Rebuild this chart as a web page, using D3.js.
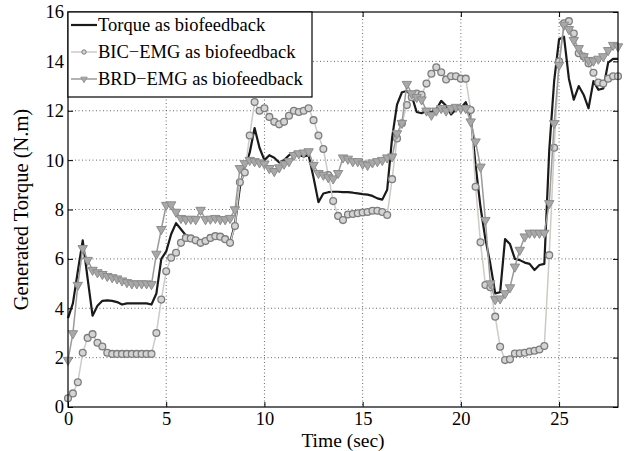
<!DOCTYPE html>
<html><head><meta charset="utf-8">
<script src="https://cdn.jsdelivr.net/npm/d3@7"></script>
<style>body{margin:0;background:#fff}svg{display:block}</style>
</head><body>
<svg id="c" width="625" height="451"></svg>
<script>
const time = [0,0.25,0.5,0.75,1,1.25,1.5,1.75,2,2.25,2.5,2.75,3,3.25,3.5,3.75,4,4.25,4.5,4.75,5,5.25,5.5,5.75,6,6.25,6.5,6.75,7,7.25,7.5,7.75,8,8.25,8.5,8.75,9,9.25,9.5,9.75,10,10.25,10.5,10.75,11,11.25,11.5,11.75,12,12.25,12.5,12.75,13,13.25,13.5,13.75,14,14.25,14.5,14.75,15,15.25,15.5,15.75,16,16.25,16.5,16.75,17,17.25,17.5,17.75,18,18.25,18.5,18.75,19,19.25,19.5,19.75,20,20.25,20.5,20.75,21,21.25,21.5,21.75,22,22.25,22.5,22.75,23,23.25,23.5,23.75,24,24.25,24.5,24.75,25,25.25,25.5,25.75,26,26.25,26.5,26.75,27,27.25,27.5,27.75,28];

const torque = [3.6,4.2,5.5,6.75,5.2,3.7,4.1,4.3,4.32,4.3,4.25,4.15,4.2,4.2,4.2,4.2,4.2,4.15,4.6,6.0,6.3,7.0,7.45,7.2,6.95,6.85,6.8,6.75,6.75,6.8,6.85,6.85,6.8,6.65,7.4,8.9,9.7,10.3,11.3,10.5,10.0,10.2,10.1,9.9,10.0,10.2,10.3,10.2,10.15,10.2,9.3,8.3,8.65,8.7,8.72,8.72,8.7,8.7,8.68,8.65,8.62,8.6,8.55,8.45,8.4,8.8,10.9,12.25,12.75,12.8,12.6,11.95,11.9,12.0,11.95,12.05,12.4,12.2,11.85,12.05,12.1,12.35,11.8,9.8,8.1,6.8,5.8,4.6,4.65,6.8,6.6,6.0,5.95,5.85,5.8,5.55,5.75,5.8,10.4,13.2,14.9,15.0,13.3,12.45,13.0,12.65,12.1,13.2,12.85,12.9,13.95,14.1,14.1];

const bicEmg = [0.35,0.55,1.0,2.2,2.8,2.95,2.6,2.45,2.2,2.15,2.15,2.15,2.15,2.15,2.15,2.15,2.15,2.15,3.0,4.35,5.5,6.05,6.25,6.65,6.85,6.83,6.75,6.65,6.72,6.85,6.92,6.9,6.8,6.65,7.33,9.1,9.5,11.0,12.35,12.0,12.1,11.75,11.55,11.45,11.55,11.8,12.0,11.95,12.0,12.1,11.62,11.0,10.45,9.4,8.34,7.74,7.57,7.8,7.82,7.85,7.88,7.9,7.95,7.95,7.9,7.78,9.23,10.88,11.49,12.23,12.55,12.7,12.65,13.1,13.5,13.76,13.56,13.27,13.4,13.4,13.3,13.3,12.03,8.92,6.67,4.94,4.85,3.66,2.44,1.9,1.93,2.17,2.18,2.2,2.25,2.28,2.33,2.47,6.15,10.5,14.0,15.54,15.63,15.13,14.33,14.2,13.92,13.54,13.14,13.1,13.3,13.4,13.4];

const brdEmg = [1.9,2.98,4.94,6.43,5.95,5.55,5.45,5.38,5.3,5.25,5.2,5.12,5.05,5.0,5.0,5.0,5.0,4.97,6.2,7.2,8.18,8.2,7.9,7.65,7.6,7.62,7.6,7.98,7.6,7.62,7.65,7.6,7.6,7.65,8.0,9.67,9.87,10.0,9.95,9.9,9.85,9.67,9.55,9.7,9.85,9.95,10.2,10.27,10.3,10.35,9.8,9.47,9.4,9.3,9.25,9.47,10.1,10.05,9.95,9.95,9.85,9.8,9.9,9.95,10.0,10.1,10.14,11.08,11.5,13.08,12.7,12.55,12.45,12.0,11.83,12.0,12.1,12.0,12.1,12.15,12.1,12.1,11.56,10.75,9.73,7.57,5.0,4.36,4.39,4.6,4.84,5.68,6.36,6.9,7.05,7.05,7.05,7.05,8.25,11.49,13.85,15.48,15.3,14.86,14.53,14.2,14.05,14.02,14.1,14.2,14.45,14.66,14.6];

const xTicks = [0,5,10,15,20,25];
const yTicks = [0,2,4,6,8,10,12,14,16];
const legendLabels = ["Torque as biofeedback","BIC\u2212EMG as biofeedback","BRD\u2212EMG as biofeedback"];

const svg = d3.select("#c");
const L = 68, R = 618, T = 12, B = 407;
const x = d3.scaleLinear().domain([0,28]).range([L,R]);
const y = d3.scaleLinear().domain([0,16]).range([B,T]);
const font = "'Liberation Serif','Times New Roman',serif";

// grid
const g = svg.append("g");
g.selectAll(".gx").data(xTicks.filter(d=>d>0)).join("line")
  .attr("x1",d=>x(d)).attr("x2",d=>x(d)).attr("y1",T).attr("y2",B)
  .attr("stroke","#444").attr("stroke-width",0.8).attr("stroke-dasharray","1,2.5");
g.selectAll(".gy").data(yTicks.filter(d=>d>0 && d<16)).join("line")
  .attr("x1",L).attr("x2",R).attr("y1",d=>y(d)).attr("y2",d=>y(d))
  .attr("stroke","#444").attr("stroke-width",0.8).attr("stroke-dasharray","1,2.5");

// axes
const xAxis = d3.axisBottom(x).tickValues(xTicks).tickSize(-5).tickPadding(4).tickFormat(d3.format("d"));
const yAxis = d3.axisLeft(y).tickValues(yTicks).tickSize(-5).tickPadding(4).tickFormat(d3.format("d"));
const xa = svg.append("g").attr("transform",`translate(0,${B})`).call(xAxis);
const ya = svg.append("g").attr("transform",`translate(${L},0)`).call(yAxis);
const xt = svg.append("g").attr("transform",`translate(0,${T})`).call(d3.axisTop(x).tickValues(xTicks).tickSize(-5).tickFormat(""));
const yr = svg.append("g").attr("transform",`translate(${R},0)`).call(d3.axisRight(y).tickValues(yTicks).tickSize(-5).tickFormat(""));
[xa,ya,xt,yr].forEach(a=>{a.attr("font-family",font);a.select(".domain").remove();a.selectAll("line").attr("stroke","#000");});
[xa,ya].forEach(a=>a.selectAll("text").attr("font-family",font).attr("font-size",18.5).attr("fill","#000"));
xa.selectAll("text").attr("dy","0.75em");

// series
const mk = v => time.map((t,i)=>({t, v:v[i]}));
const line = d3.line().x(d=>x(d.t)).y(d=>y(d.v));
svg.append("path").datum(mk(torque)).attr("d",line).attr("fill","none").attr("stroke","#1a1a1a").attr("stroke-width",2.2).attr("stroke-linejoin","round");

svg.append("path").datum(mk(bicEmg)).attr("d",line).attr("fill","none").attr("stroke","#cfcac4").attr("stroke-width",1.5);
svg.append("g").selectAll("circle").data(mk(bicEmg)).join("circle")
  .attr("cx",d=>x(d.t)).attr("cy",d=>y(d.v)).attr("r",3.4)
  .attr("fill","#d4d4d4").attr("stroke","#7d7d7d").attr("stroke-width",1.3);

svg.append("path").datum(mk(brdEmg)).attr("d",line).attr("fill","none").attr("stroke","#9a9a9a").attr("stroke-width",1.5);
const tri = d3.symbol().type(d3.symbolTriangle).size(38);
svg.append("g").selectAll("path").data(mk(brdEmg)).join("path")
  .attr("d",tri).attr("transform",d=>`translate(${x(d.t)},${y(d.v)}) rotate(180)`)
  .attr("fill","#a8a8a8").attr("stroke","#8c8c8c").attr("stroke-width",1);

// frame
svg.append("rect").attr("x",L).attr("y",T).attr("width",R-L).attr("height",B-T)
  .attr("fill","none").attr("stroke","#000").attr("stroke-width",1.2);

// labels
svg.append("text").attr("x",(L+R)/2).attr("y",447).attr("text-anchor","middle")
  .attr("font-family",font).attr("font-size",19.5).text("Time (sec)");
svg.append("text").attr("transform",`translate(28,${(T+B)/2}) rotate(-90)`).attr("text-anchor","middle")
  .attr("font-family",font).attr("font-size",20.5).text("Generated Torque (N.m)");

// legend
const lg = svg.append("g");
lg.append("rect").attr("x",L).attr("y",T).attr("width",244).attr("height",85)
  .attr("fill","#fff").attr("stroke","#000").attr("stroke-width",1.2);
const rowsY = [25,52,79];
lg.append("line").attr("x1",71).attr("x2",97).attr("y1",rowsY[0]).attr("y2",rowsY[0]).attr("stroke","#1a1a1a").attr("stroke-width",2.2);
lg.append("line").attr("x1",71).attr("x2",97).attr("y1",rowsY[1]).attr("y2",rowsY[1]).attr("stroke","#cfcac4").attr("stroke-width",1.5);
lg.append("circle").attr("cx",84).attr("cy",rowsY[1]).attr("r",2.2).attr("fill","#d4d4d4").attr("stroke","#7d7d7d").attr("stroke-width",1);
lg.append("line").attr("x1",71).attr("x2",97).attr("y1",rowsY[2]).attr("y2",rowsY[2]).attr("stroke","#9a9a9a").attr("stroke-width",1.5);
lg.append("path").attr("d",d3.symbol().type(d3.symbolTriangle).size(18)).attr("transform",`translate(84,${rowsY[2]}) rotate(180)`).attr("fill","#a8a8a8").attr("stroke","#8c8c8c").attr("stroke-width",0.8);
lg.selectAll("text.l").data(legendLabels).join("text")
  .attr("x",98).attr("y",(d,i)=>rowsY[i]).attr("dy","0.35em")
  .attr("font-family",font).attr("font-size",18.5).text(d=>d);
</script>
</body></html>
